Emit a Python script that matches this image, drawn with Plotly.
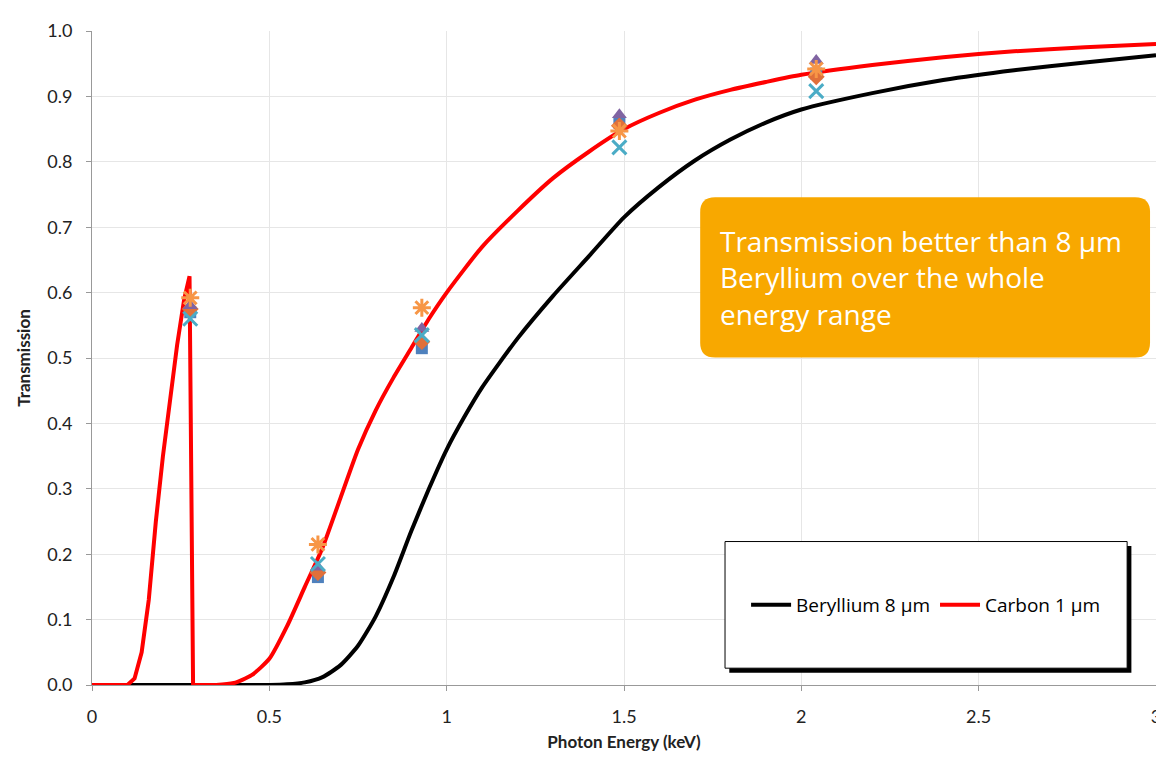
import plotly.graph_objects as go

# Curves
be_energy = [0.0, 0.5, 0.55, 0.6, 0.65, 0.7, 0.75, 0.8, 0.85, 0.9, 0.95, 1.0, 1.05, 1.1, 1.2, 1.3, 1.4, 1.5,
             1.6, 1.7, 1.8, 1.9, 2.0, 2.2, 2.4, 2.6, 2.8, 3.0]
be_trans = [0.0, 0.0, 0.001, 0.004, 0.012, 0.03, 0.06, 0.105, 0.165, 0.235, 0.30, 0.36, 0.41, 0.455, 0.53, 0.595,
            0.655, 0.715, 0.762, 0.802, 0.834, 0.86, 0.88, 0.905, 0.925, 0.94, 0.952, 0.963]

c_energy_low = [0.0, 0.1, 0.12, 0.14, 0.16, 0.18, 0.2, 0.22, 0.24, 0.26, 0.275, 0.285]
c_trans_low = [0.0, 0.0, 0.01, 0.05, 0.13, 0.25, 0.35, 0.44, 0.52, 0.59, 0.625, 0.0]
c_energy_high = [0.285, 0.35, 0.4, 0.45, 0.5, 0.55, 0.6, 0.65, 0.7, 0.75, 0.8, 0.85, 0.9, 0.95, 1.0, 1.1, 1.2,
                 1.3, 1.4, 1.5, 1.6, 1.7, 1.8, 1.9, 2.0, 2.2, 2.4, 2.6, 2.8, 3.0]
c_trans_high = [0.0, 0.0, 0.003, 0.015, 0.04, 0.09, 0.15, 0.21, 0.285, 0.36, 0.42, 0.47, 0.515, 0.56, 0.60, 0.67,
                0.725, 0.775, 0.815, 0.85, 0.875, 0.895, 0.91, 0.922, 0.933, 0.948, 0.96, 0.969, 0.975, 0.98]

# Measured points
meas_energy = [0.277, 0.637, 0.930, 1.487, 2.042]
meas_square = [0.57, 0.165, 0.515, 0.86, 0.935]
meas_diamond = [0.575, 0.172, 0.525, 0.855, 0.93]
meas_triangle = [0.58, 0.18, 0.545, 0.872, 0.955]
meas_x = [0.56, 0.185, 0.535, 0.822, 0.908]
meas_star = [0.592, 0.215, 0.577, 0.847, 0.942]

x_ticks = [0, 0.5, 1, 1.5, 2, 2.5, 3]
x_tick_text = ["0", "0.5", "1", "1.5", "2", "2.5", "3"]

FONT = "Lato, 'Open Sans', sans-serif"
BOX_FONT = "'Open Sans', sans-serif"

fig = go.Figure()
fig.add_trace(go.Scatter(x=be_energy, y=be_trans, mode="lines", name="Beryllium 8 µm",
                         line=dict(color="black", width=4, shape="spline", smoothing=0.6)))
fig.add_trace(go.Scatter(x=c_energy_low, y=c_trans_low, mode="lines", name="Carbon 1 µm", legendgroup="c",
                         line=dict(color="#ff0000", width=4)))
fig.add_trace(go.Scatter(x=c_energy_high, y=c_trans_high, mode="lines", name="Carbon 1 µm", legendgroup="c",
                         showlegend=False, line=dict(color="#ff0000", width=4, shape="spline", smoothing=0.6)))

marker_specs = [
    (meas_square, "square", "#4F81BD", 12, 0),
    (meas_diamond, "diamond", "#E0703A", 13, 0),
    (meas_triangle, "triangle-up", "#8064A2", 13, 0),
    (meas_x, "x-thin-open", "#4BACC6", 14, 3),
    (meas_star, "asterisk-open", "#F79646", 15, 3),
]
for vals, sym, col, size, lw in marker_specs:
    if lw:
        m = dict(symbol=sym, size=size, color=col, line=dict(color=col, width=lw))
    else:
        m = dict(symbol=sym, size=size, color=col, line=dict(width=0))
    fig.add_trace(go.Scatter(x=meas_energy, y=vals, mode="markers", marker=m, showlegend=False))

# Annotation box (rounded)
x0, x1, y0, y1 = 0.5716, 0.9944, 0.5008, 0.7458
rx, ry = 0.014, 0.0227
path = (f"M {x0+rx},{y0} L {x1-rx},{y0} Q {x1},{y0} {x1},{y0+ry} L {x1},{y1-ry} Q {x1},{y1} {x1-rx},{y1} "
        f"L {x0+rx},{y1} Q {x0},{y1} {x0},{y1-ry} L {x0},{y0+ry} Q {x0},{y0} {x0+rx},{y0} Z")
fig.add_shape(type="path", path=path, xref="paper", yref="paper", fillcolor="#F8A800",
              line=dict(width=0), layer="above")
fig.add_annotation(x=x0 + 0.017, y=(y0 + y1) / 2, xref="paper", yref="paper", xanchor="left", yanchor="middle",
                   align="left", showarrow=False,
                   text="Transmission better than 8 µm<br>Beryllium over the whole<br>energy range",
                   font=dict(family=BOX_FONT, size=28, color="white"))

# Legend box with shadow
lx0, lx1, ly0, ly1 = (728 - 92) / 1069, (1132 - 92) / 1069, (685 - 668) / 661, (685 - 540) / 661
fig.add_shape(type="rect", xref="paper", yref="paper", x0=lx0 + 0.004, x1=lx1 + 0.004,
              y0=ly0 - 0.007, y1=ly1 - 0.007, fillcolor="black", line=dict(width=0), layer="above")
fig.add_shape(type="rect", xref="paper", yref="paper", x0=lx0, x1=lx1, y0=ly0, y1=ly1,
              fillcolor="white", line=dict(color="black", width=1), layer="above")

fig.update_layout(
    width=1164, height=761,
    margin=dict(l=84, r=11, t=16, b=84),
    paper_bgcolor="white", plot_bgcolor="white",
    font=dict(family=FONT, size=17, color="#222"),
    showlegend=True,
    legend=dict(orientation="h", x=(lx0 + lx1) / 2, y=(ly0 + ly1) / 2, xanchor="center", yanchor="middle",
                bgcolor="rgba(0,0,0,0)", font=dict(family=BOX_FONT, size=19, color="black"),
                itemwidth=40, tracegroupgap=0),
    xaxis=dict(range=[0, 3], tickvals=x_ticks, ticktext=x_tick_text, showgrid=True, gridcolor="#e6e6e6",
               showline=True, linecolor="#999", ticks="outside", tickcolor="#999", ticklen=5,
               ticklabelstandoff=10,
               zeroline=False, title=dict(text="<b>Photon Energy (keV)</b>", font=dict(size=17), standoff=10),
               tickfont=dict(size=18)),
    yaxis=dict(range=[0, 1], dtick=0.1, tickformat=".1f", showgrid=True, gridcolor="#e6e6e6",
               showline=True, linecolor="#999", ticks="outside", tickcolor="#999", ticklen=5,
               ticklabelstandoff=10,
               zeroline=False, title=dict(text="<b>Transmission</b>", font=dict(size=17), standoff=12),
               tickfont=dict(size=18)),
)

fig.write_html("out.html")
